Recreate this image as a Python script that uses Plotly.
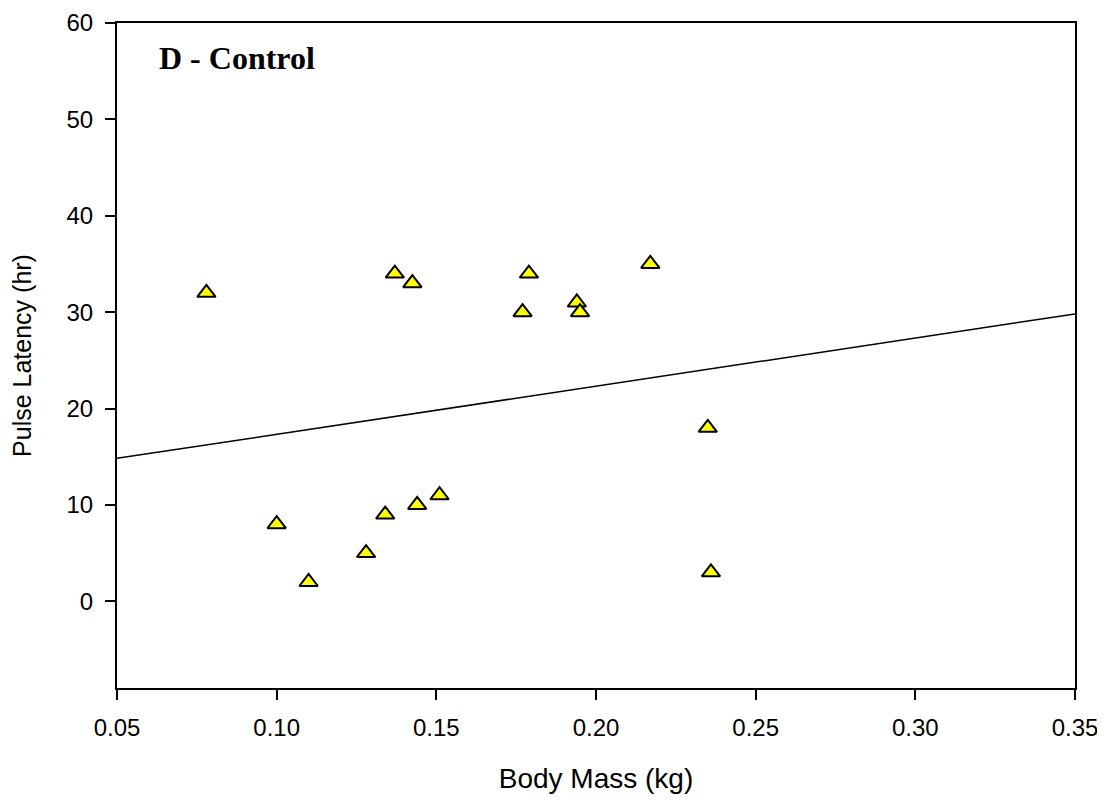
import numpy as np
import plotly.graph_objects as go

# Data
body_mass = [0.078, 0.100, 0.110, 0.128, 0.134, 0.144, 0.151, 0.137, 0.1425,
             0.179, 0.177, 0.194, 0.195, 0.217, 0.235, 0.236]
pulse_latency = [32, 8, 2, 5, 9, 10, 11, 34, 33, 34, 30, 31, 30, 35, 18, 3]

x_range = [0.05, 0.35]
y_range = [-9, 60]
x_ticks = [0.05, 0.10, 0.15, 0.20, 0.25, 0.30, 0.35]
x_tick_labels = ["0.05", "0.10", "0.15", "0.20", "0.25", "0.30", "0.35"]
y_ticks = [0, 10, 20, 30, 40, 50, 60]
panel_label = "D - Control"

# Linear regression over the data
slope, intercept = np.polyfit(body_mass, pulse_latency, 1)
fit_x = np.array(x_range)
fit_y = slope * fit_x + intercept

fig = go.Figure()
fig.add_trace(go.Scatter(
    x=fit_x, y=fit_y, mode="lines",
    line=dict(color="black", width=1.5),
    showlegend=False, hoverinfo="skip",
))
fig.add_trace(go.Scatter(
    x=body_mass, y=pulse_latency, mode="markers",
    marker=dict(symbol="triangle-up", size=16, color="#FFFF00",
                line=dict(color="black", width=2)),
    showlegend=False,
))

axis_common = dict(
    showline=True, linecolor="black", linewidth=2, mirror=True,
    ticks="outside", ticklen=10, tickwidth=2, tickcolor="black",
    ticklabelstandoff=7, automargin=False, ticklabeloverflow="allow",
    showgrid=False, zeroline=False,
    tickfont=dict(family="Liberation Sans, Arial, sans-serif", size=24, color="black"),
)

fig.update_xaxes(
    range=x_range, tickvals=x_ticks, ticktext=x_tick_labels,
    title=dict(text="Body Mass (kg)", standoff=29,
               font=dict(family="Liberation Sans, Arial, sans-serif", size=28, color="black")),
    **axis_common,
)
fig.update_yaxes(
    range=y_range, tickvals=y_ticks,
    title=dict(text="Pulse Latency (hr)", standoff=29,
               font=dict(family="Liberation Sans, Arial, sans-serif", size=25, color="black")),
    **axis_common,
)

fig.add_annotation(
    text="<b>" + panel_label + "</b>", xref="paper", yref="paper",
    x=0.042, y=0.948, xanchor="left", yanchor="middle", showarrow=False,
    font=dict(family="Liberation Serif, Times New Roman, serif", size=32, color="black"),
)

fig.update_layout(
    width=1097, height=792,
    margin=dict(l=109, r=30, t=15, b=112),
    plot_bgcolor="white", paper_bgcolor="white",
)

fig.write_html("out.html")
